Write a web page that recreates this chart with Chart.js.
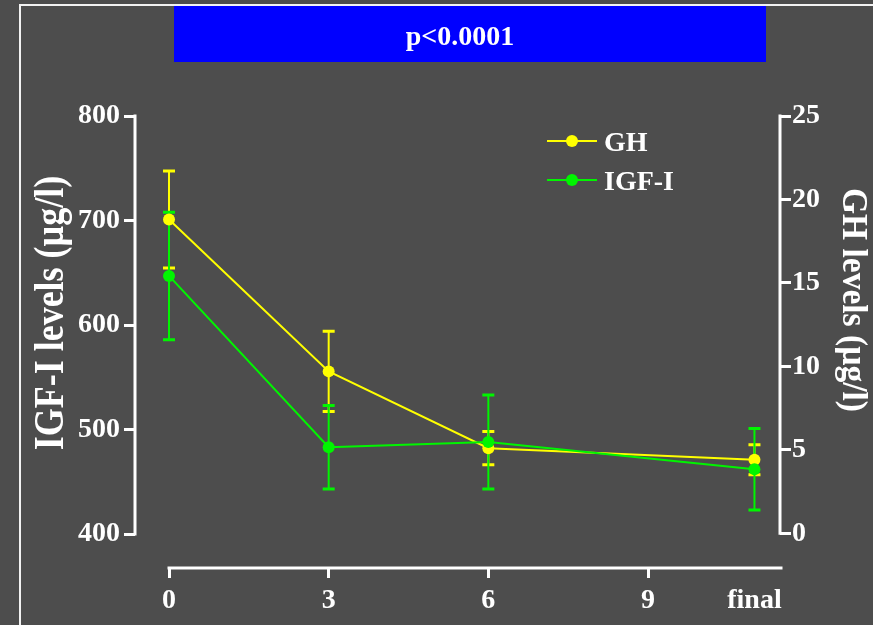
<!DOCTYPE html>
<html>
<head>
<meta charset="utf-8">
<script src="https://cdn.jsdelivr.net/npm/chart.js@4.4.1/dist/chart.umd.min.js"></script>
<style>
  html, body { margin: 0; padding: 0; background: #4d4d4d; }
  #wrap { width: 873px; height: 625px; position: relative; }
</style>
</head>
<body>
<div id="wrap"><canvas id="c"></canvas></div>
<script>
// Time points (months); "final" visit plotted at 11
const timepoints = [0, 3, 6, 11];
const timeTickValues = [0, 3, 6, 9, 11];
const timeTickLabels = ['0', '3', '6', '9', 'final'];

// GH (µg/l), mean and SD
const ghMean = [18.8, 9.7, 5.1, 4.4];
const ghSd = [2.9, 2.4, 1.0, 0.9];

// IGF-I (µg/l), mean and SD
const igfMean = [647, 483, 488, 462];
const igfSd = [61, 40, 45, 39];

const igfTicks = [400, 500, 600, 700, 800];
const ghTicks = [0, 5, 10, 15, 20, 25];

const seriesNames = ['GH', 'IGF-I'];
const pLabel = 'p<0.0001';
const igfTitle = 'IGF-I levels (µg/l)';
const ghTitle = 'GH levels (µg/l)';

const BG = '#4d4d4d';
const WHITE = '#ffffff';
const YELLOW = '#ffff00';
const GREEN = '#00f500';
const FONT = "'Liberation Serif', 'Times New Roman', serif";
const tickFont = { family: FONT, weight: 'bold', size: 28 };

const sdByDataset = [ghSd, igfSd];
const meanByDataset = [ghMean, igfMean];

function drawRotatedText(ctx, text, cx, cy, angle, size, stretch) {
  ctx.save();
  ctx.translate(cx, cy);
  ctx.rotate(angle);
  ctx.scale(1, stretch);
  ctx.font = `bold ${size}px ${FONT}`;
  ctx.textAlign = 'center';
  ctx.textBaseline = 'middle';
  ctx.fillStyle = WHITE;
  ctx.fillText(text, 0, 0);
  ctx.restore();
}

const decor = {
  id: 'decor',
  beforeDraw(chart) {
    const ctx = chart.ctx;
    ctx.save();
    ctx.fillStyle = BG;
    ctx.fillRect(0, 0, chart.width, chart.height);
    // outer frame
    ctx.strokeStyle = '#f2f2f2';
    ctx.lineWidth = 2;
    ctx.beginPath();
    ctx.moveTo(20, chart.height);
    ctx.lineTo(20, 5);
    ctx.lineTo(chart.width, 5);
    ctx.stroke();
    // significance banner
    ctx.fillStyle = '#0000ff';
    ctx.fillRect(174, 6, 592, 56);
    ctx.fillStyle = WHITE;
    ctx.font = `bold 28px ${FONT}`;
    ctx.textAlign = 'center';
    ctx.textBaseline = 'alphabetic';
    ctx.fillText(pLabel, 460, 45);
    ctx.restore();
  },
  beforeDatasetsDraw(chart) {
    const ctx = chart.ctx;
    const { x, y, y1 } = chart.scales;
    const area = chart.chartArea;
    ctx.save();
    // axis lines
    ctx.strokeStyle = WHITE;
    ctx.lineWidth = 3;
    ctx.lineCap = 'square';
    ctx.beginPath();
    ctx.moveTo(area.left, y.getPixelForValue(igfTicks[0]));
    ctx.lineTo(area.left, y.getPixelForValue(igfTicks[igfTicks.length - 1]));
    ctx.moveTo(area.right, y1.getPixelForValue(ghTicks[0]));
    ctx.lineTo(area.right, y1.getPixelForValue(ghTicks[ghTicks.length - 1]));
    ctx.moveTo(x.getPixelForValue(timeTickValues[0]), area.bottom);
    ctx.lineTo(area.right + 1, area.bottom);
    ctx.stroke();

    // error bars (GH first, IGF-I on top)
    ctx.lineCap = 'butt';
    chart.data.datasets.forEach((ds, di) => {
      const scale = chart.scales[ds.yAxisID];
      const mean = meanByDataset[di];
      const sd = sdByDataset[di];
      ctx.strokeStyle = ds.borderColor;
      timepoints.forEach((t, j) => {
        const px = x.getPixelForValue(t);
        const top = scale.getPixelForValue(mean[j] + sd[j]);
        const bot = scale.getPixelForValue(mean[j] - sd[j]);
        ctx.lineWidth = 2;
        ctx.beginPath();
        ctx.moveTo(px, top);
        ctx.lineTo(px, bot);
        ctx.stroke();
        ctx.lineWidth = 3;
        ctx.beginPath();
        ctx.moveTo(px - 6, top);
        ctx.lineTo(px + 6, top);
        ctx.moveTo(px - 6, bot);
        ctx.lineTo(px + 6, bot);
        ctx.stroke();
      });
    });
    ctx.restore();
  },
  afterDraw(chart) {
    const ctx = chart.ctx;
    ctx.save();
    // legend
    const rows = [141, 180];
    chart.data.datasets.forEach((ds, i) => {
      const yy = rows[i];
      ctx.strokeStyle = ds.borderColor;
      ctx.lineWidth = 2;
      ctx.beginPath();
      ctx.moveTo(547, yy);
      ctx.lineTo(597, yy);
      ctx.stroke();
      ctx.fillStyle = ds.borderColor;
      ctx.beginPath();
      ctx.arc(572, yy, 6, 0, Math.PI * 2);
      ctx.fill();
      ctx.fillStyle = WHITE;
      ctx.font = `bold 28px ${FONT}`;
      ctx.textAlign = 'left';
      ctx.textBaseline = 'alphabetic';
      ctx.fillText(ds.label, 604, yy + 10);
    });
    // axis titles
    drawRotatedText(ctx, igfTitle, 52, 313, -Math.PI / 2, 36, 1.2);
    drawRotatedText(ctx, ghTitle, 852, 300, Math.PI / 2, 33.5, 1.08);
    ctx.restore();
  }
};

new Chart(document.getElementById('c'), {
  type: 'line',
  data: {
    datasets: [
      {
        label: seriesNames[0],
        data: timepoints.map((t, i) => ({ x: t, y: ghMean[i] })),
        yAxisID: 'y1',
        borderColor: YELLOW,
        backgroundColor: YELLOW,
        pointBackgroundColor: YELLOW,
        borderWidth: 2,
        pointRadius: 6,
        pointBorderWidth: 0,
        tension: 0,
        order: 2
      },
      {
        label: seriesNames[1],
        data: timepoints.map((t, i) => ({ x: t, y: igfMean[i] })),
        yAxisID: 'y',
        borderColor: GREEN,
        backgroundColor: GREEN,
        pointBackgroundColor: GREEN,
        borderWidth: 2,
        pointRadius: 6,
        pointBorderWidth: 0,
        tension: 0,
        order: 1
      }
    ]
  },
  options: {
    responsive: true,
    maintainAspectRatio: false,
    animation: false,
    events: [],
    layout: { padding: { top: 116, left: 0, right: 0, bottom: 0 } },
    plugins: { legend: { display: false }, tooltip: { enabled: false } },
    scales: {
      x: {
        type: 'linear',
        position: 'bottom',
        min: -0.639,
        max: 11.48,
        afterBuildTicks: s => { s.ticks = timeTickValues.map(v => ({ value: v })); },
        afterFit: s => { s.height = 57; },
        ticks: {
          autoSkip: false,
          maxRotation: 0,
          color: WHITE,
          font: tickFont,
          padding: 6,
          callback: (v, i) => timeTickLabels[i]
        },
        grid: {
          drawOnChartArea: false,
          drawTicks: true,
          tickLength: 10,
          lineWidth: 3,
          color: c => (c.tick && c.tick.value === 11) ? 'rgba(0,0,0,0)' : WHITE
        },
        border: { display: false }
      },
      y: {
        type: 'linear',
        position: 'left',
        min: 367.5,
        max: 800,
        afterBuildTicks: s => { s.ticks = igfTicks.map(v => ({ value: v })); },
        afterFit: s => { s.width = 135; },
        ticks: { color: WHITE, font: tickFont, padding: 4 },
        grid: { drawOnChartArea: false, drawTicks: true, tickLength: 11, lineWidth: 3, color: WHITE },
        border: { display: false }
      },
      y1: {
        type: 'linear',
        position: 'right',
        min: -2.08,
        max: 25,
        afterBuildTicks: s => { s.ticks = ghTicks.map(v => ({ value: v })); },
        afterFit: s => { s.width = 93; },
        ticks: { color: WHITE, font: tickFont, padding: 1 },
        grid: { drawOnChartArea: false, drawTicks: true, tickLength: 11, lineWidth: 3, color: WHITE },
        border: { display: false }
      }
    }
  },
  plugins: [decor]
});
</script>
</body>
</html>
